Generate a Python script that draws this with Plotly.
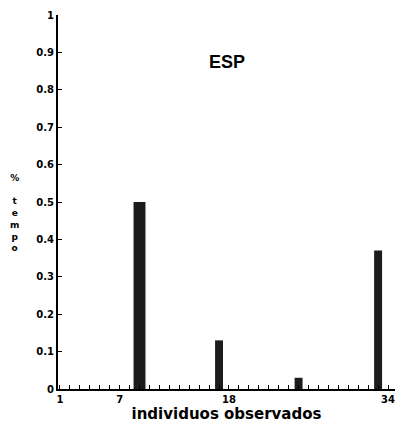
import plotly.graph_objects as go

# observed individuals with non-zero share of time
individuos = [9, 17, 25, 33]
tempo = [0.5, 0.13, 0.03, 0.37]

x_ticks = [1, 7, 18, 34]
y_ticks = [0, 0.1, 0.2, 0.3, 0.4, 0.5, 0.6, 0.7, 0.8, 0.9, 1]
y_labels = ["0", "0.1", "0.2", "0.3", "0.4", "0.5", "0.6", "0.7", "0.8", "0.9", "1"]

fig = go.Figure(
    go.Bar(
        x=individuos,
        y=tempo,
        width=[1.2, 0.8, 0.8, 0.8],
        marker=dict(color="#1c1c1c", line=dict(width=0)),
    )
)

fig.update_layout(
    width=400,
    height=433,
    margin=dict(l=58, r=5, t=15, b=44),
    paper_bgcolor="white",
    plot_bgcolor="white",
    showlegend=False,
    font=dict(family="DejaVu Sans", color="black"),
)

fig.update_xaxes(
    range=[0.8, 34.7],
    tickvals=x_ticks,
    ticktext=[str(v) for v in x_ticks],
    ticks="inside",
    ticklen=4,
    tickwidth=1,
    tickcolor="black",
    minor=dict(dtick=1, tick0=1, ticks="inside", ticklen=4, tickwidth=1, tickcolor="black"),
    showline=True,
    linecolor="black",
    linewidth=1.5,
    showgrid=False,
    zeroline=False,
    tickfont=dict(family="DejaVu Sans", size=10, color="black", weight="bold"),
    title=dict(
        text="<b>individuos observados</b>",
        font=dict(family="DejaVu Sans", size=15, color="black"),
        standoff=4,
    ),
)

fig.update_yaxes(
    range=[0, 1],
    tickvals=y_ticks,
    ticktext=y_labels,
    ticks="inside",
    ticklen=4,
    tickwidth=1,
    tickcolor="black",
    showline=True,
    linecolor="black",
    linewidth=2,
    showgrid=False,
    zeroline=False,
    tickfont=dict(family="DejaVu Sans", size=10, color="black", weight="bold"),
)

# stacked vertical axis caption
fig.add_annotation(
    text="<b>%<br> <br>t<br>e<br>m<br>p<br>o</b>",
    xref="paper", yref="paper",
    x=-0.13, y=0.47,
    xanchor="center", yanchor="middle",
    showarrow=False,
    font=dict(family="DejaVu Sans", size=9, color="black"),
)

fig.add_annotation(
    text="<b>ESP</b>",
    xref="paper", yref="paper",
    x=0.5, y=0.875,
    xanchor="center", yanchor="middle",
    showarrow=False,
    font=dict(family="Liberation Sans", size=18, color="black"),
)

fig.write_html("out.html")
